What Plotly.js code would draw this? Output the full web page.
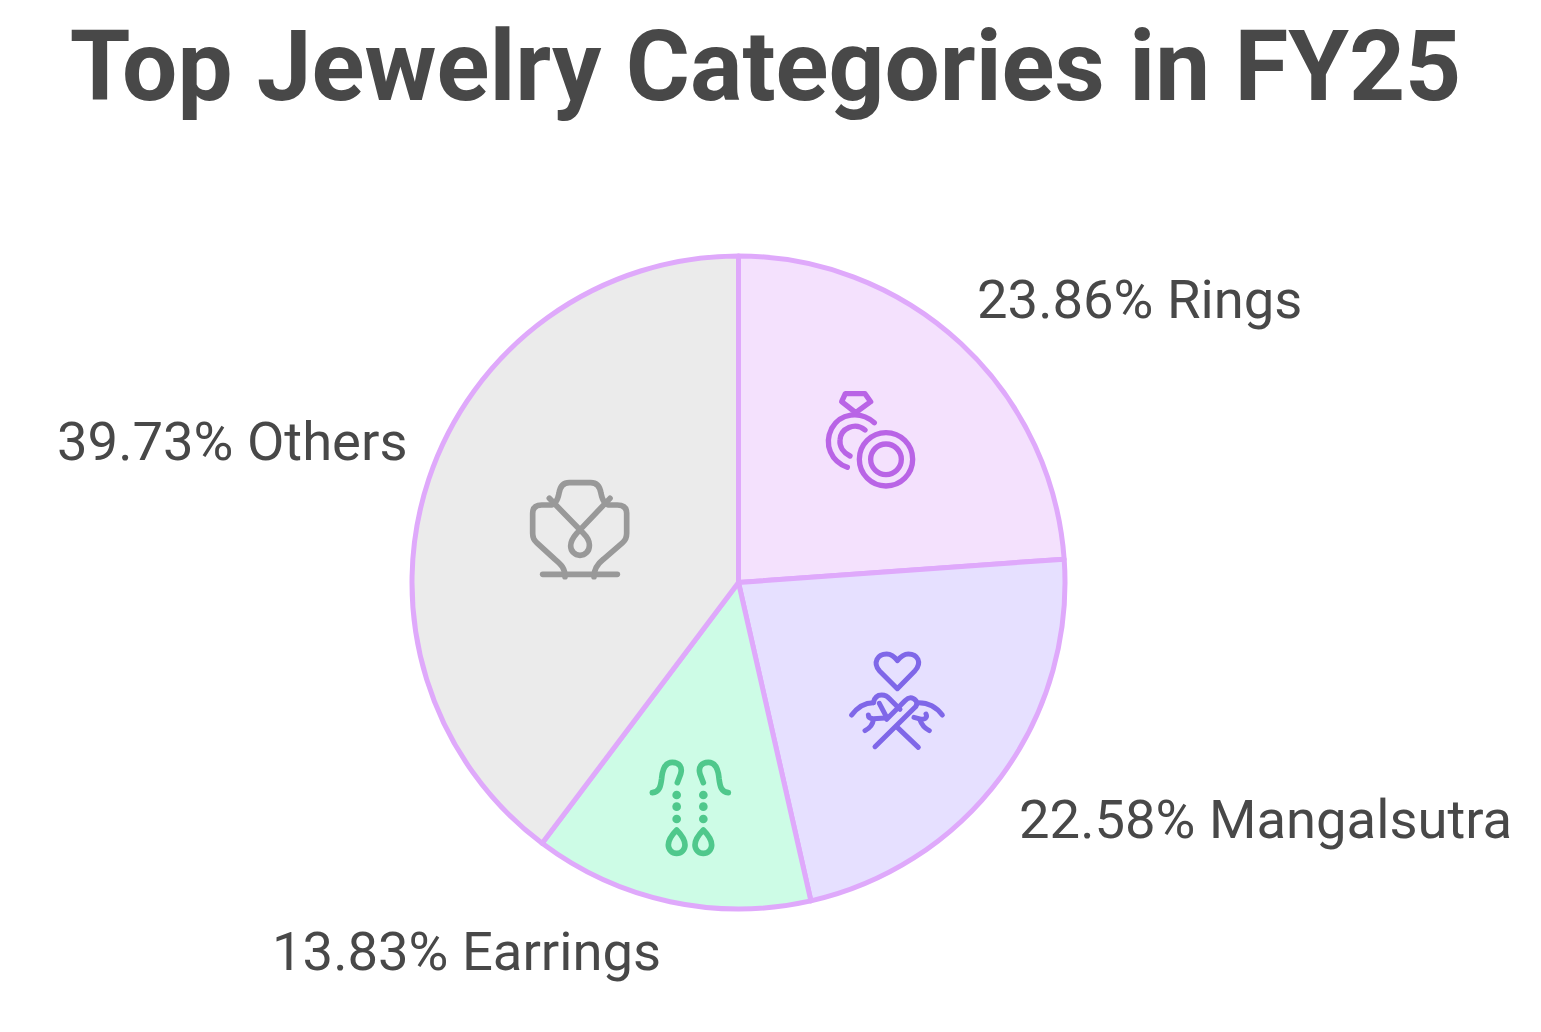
<!DOCTYPE html>
<html><head><meta charset="utf-8">
<script src="https://cdn.plot.ly/plotly-3.0.1.min.js"></script>
<style>html,body{margin:0;padding:0;background:#fff}#c{width:1541px;height:1032px}</style></head>
<body><div id="c"></div>
<script>
const categories = ["Rings","Mangalsutra","Earrings","Others"];
const shares = [23.86,22.58,13.83,39.73];
const sliceColors = ["#F4E1FD","#E6E0FF","#CDFCE6","#EBEBEB"];
const chartTitle = "Top Jewelry Categories in FY25";
const W=1541,H=1032,TXT="#484848";
const cx=738.5,cy=582.5,R=326.5;
const labelPos=[[975,299],[1017,819],[270,951],[55,441]];
const iconBoxes=[[810,380,120,120],[840,640,120,120],[640,750,100,110],[520,470,120,120]];
const iconSvg=[
 `<svg xmlns="http://www.w3.org/2000/svg" viewBox="0 0 360 360"><g fill="none" stroke="#B964E6" stroke-width="16" stroke-linecap="round" stroke-linejoin="round"><path d="M106,41H165L182,65L137,98L95,65Z"/><path d="M193,128C150,90 90,100 65,145C40,195 65,245 112,262"/><path d="M165,150C135,125 92,145 90,180C88,200 100,218 120,228"/><circle cx="228" cy="238" r="80"/><circle cx="228" cy="238" r="46"/></g></svg>`,
 `<svg xmlns="http://www.w3.org/2000/svg" viewBox="0 0 360 360"><g fill="none" stroke="#7F67E8" stroke-width="15" stroke-linecap="round" stroke-linejoin="round"><path d="M172,146L118,92C98,68 112,42 140,42C155,42 165,52 172,62C180,52 190,42 205,42C233,42 247,68 225,92Z"/><path d="M35,225C52,202 75,188 100,188"/><path d="M100,188Q105,165 125,165Q140,165 150,178L180,208"/><path d="M118,190L140,232"/><path d="M140,238L195,182Q212,165 228,182Q235,195 222,205L105,320"/><path d="M307,225C290,202 265,188 236,188"/><path d="M172,262L235,322"/><path d="M135,234L100,236C90,236 85,232 85,225"/><path d="M100,240C98,255 88,265 75,272"/><path d="M222,232L245,238C258,238 262,230 258,222"/><path d="M240,240C245,255 255,265 268,272"/></g></svg>`,
 `<svg xmlns="http://www.w3.org/2000/svg" viewBox="0 0 300 330"><g fill="none" stroke="#4FC88C" stroke-width="17" stroke-linecap="round" stroke-linejoin="round"><path d="M37,128C58,126 62,110 65,85C68,50 80,37 97,37C118,37 128,52 122,72L112,98"/><path d="M265,128C244,126 240,110 237,85C234,50 222,37 205,37C184,37 174,52 180,72L190,98"/><path d="M110,240C95,255 85,270 85,285A25,25 0 0 0 135,285C135,270 125,255 110,240Z"/><path d="M190,240C175,255 165,270 165,285A25,25 0 0 0 215,285C215,270 205,255 190,240Z"/></g><g fill="#4FC88C"><circle cx="110" cy="135" r="13"/><circle cx="110" cy="170" r="13"/><circle cx="110" cy="207" r="13"/><circle cx="190" cy="135" r="13"/><circle cx="190" cy="170" r="13"/><circle cx="190" cy="207" r="13"/></g></svg>`,
 `<svg xmlns="http://www.w3.org/2000/svg" viewBox="0 0 360 360"><g fill="none" stroke="#999999" stroke-width="17" stroke-linecap="round" stroke-linejoin="round"><path d="M68,313H292"/><path d="M135,320C135,295 125,285 105,268L50,218Q38,208 38,190V130Q38,105 65,105H90Q110,105 117,70Q122,38 148,38H212Q238,38 243,70Q250,105 270,105H292Q320,105 320,130V190Q320,208 308,218L250,268Q222,290 222,320"/><path d="M88,85L190,190Q210,210 208,228A28,28 0 0 1 152,228Q152,210 170,190L270,85"/></g></svg>`
];
const data=[{type:"pie",labels:categories,values:shares,sort:false,direction:"clockwise",rotation:0,
 marker:{colors:sliceColors,line:{color:"#DFA9FB",width:5}},textinfo:"none",hoverinfo:"label+percent",showlegend:false,
 domain:{x:[(cx-R)/W,(cx+R)/W],y:[1-(cy+R)/H,1-(cy-R)/H]}}];
const layout={width:W,height:H,margin:{l:0,r:0,t:0,b:0},paper_bgcolor:"#fff",showlegend:false,
 title:{text:"<b>"+chartTitle+"</b>",font:{family:"Roboto",size:98,color:TXT},x:765.5/W,xanchor:"center",xref:"paper",y:1-66/H,yanchor:"middle",yref:"paper"},
 annotations:categories.map((c,i)=>({text:shares[i].toFixed(2)+"% "+c,x:labelPos[i][0]/W,y:1-labelPos[i][1]/H,xref:"paper",yref:"paper",xanchor:"left",yanchor:"middle",showarrow:false,font:{family:"Roboto",size:54.4,color:TXT}})),
 images:iconSvg.map((s,i)=>({source:"data:image/svg+xml;charset=utf-8,"+encodeURIComponent(s),xref:"paper",yref:"paper",x:iconBoxes[i][0]/W,y:1-iconBoxes[i][1]/H,sizex:iconBoxes[i][2]/W,sizey:iconBoxes[i][3]/H,xanchor:"left",yanchor:"top",sizing:"stretch",layer:"above"}))};
Plotly.newPlot("c",data,layout,{displayModeBar:false});
</script></body></html>
